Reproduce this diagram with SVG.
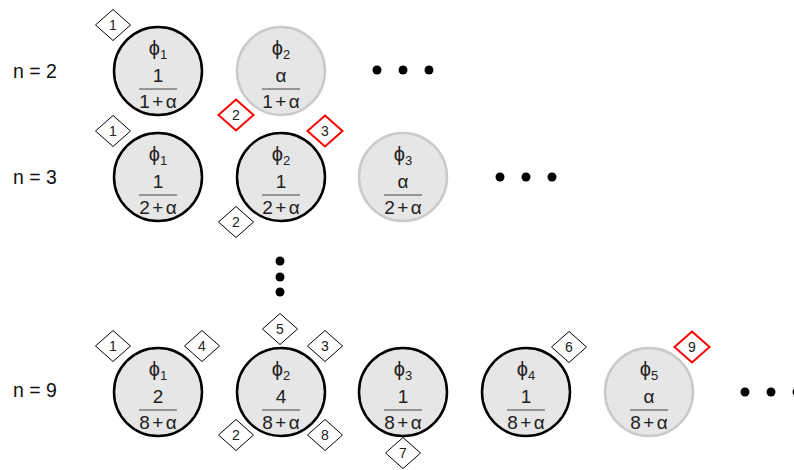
<svg xmlns="http://www.w3.org/2000/svg" xmlns:xlink="http://www.w3.org/1999/xlink" width="794" height="470" viewBox="0 0 794 470">
<style>
.c{fill:#e6e6e6;stroke:#000;stroke-width:2.5}
.cg{fill:#e6e6e6;stroke:#cacaca;stroke-width:2.5}
.t{font-family:"Liberation Sans",Arial,"DejaVu Sans",sans-serif;fill:#222;text-anchor:middle}
.phi{font-size:20px}
.num{font-size:19px}
.den{font-size:19px;letter-spacing:2.5px}
.sub{font-size:13px}
.fl{stroke:#444;stroke-width:1}
.d{fill:#fff;stroke:#000;stroke-width:1}
.dr{fill:#fff;stroke:#f00;stroke-width:2}
.dt{font-size:14px}
.lab{font-family:"Liberation Sans",Arial,sans-serif;font-size:19.5px;fill:#111}
.dot{fill:#000}
</style>
<defs>
<polygon id="dia" points="0,-15.5 17.5,0 0,15.5 -17.5,0"/>
</defs>

<g id="labels">
<text class="lab" x="13" y="78">n = 2</text>
<text class="lab" x="13" y="184">n = 3</text>
<text class="lab" x="13" y="397">n = 9</text>
</g>

<!-- n = 2 -->
<g id="n2_phi1" transform="translate(158,71)">
<circle class="c" r="44"/>
<text class="t phi" y="-16">ϕ<tspan class="sub" dy="4">1</tspan></text>
<text class="t num" y="11">1</text>
<line class="fl" x1="-19" y1="18" x2="19" y2="18"/>
<text class="t den" x="1.25" y="37">1+α</text>
</g>
<g id="n2_phi2" transform="translate(281,71)">
<circle class="cg" r="44"/>
<text class="t phi" y="-16">ϕ<tspan class="sub" dy="4">2</tspan></text>
<text class="t num" y="11">α</text>
<line class="fl" x1="-19" y1="18" x2="19" y2="18"/>
<text class="t den" x="1.25" y="37">1+α</text>
</g>
<g id="n2_dots">
<circle class="dot" cx="377" cy="70" r="4.5"/>
<circle class="dot" cx="403" cy="70" r="4.5"/>
<circle class="dot" cx="429" cy="70" r="4.5"/>
</g>

<!-- n = 3 -->
<g id="n3_phi1" transform="translate(158,177)">
<circle class="c" r="44"/>
<text class="t phi" y="-16">ϕ<tspan class="sub" dy="4">1</tspan></text>
<text class="t num" y="11">1</text>
<line class="fl" x1="-19" y1="18" x2="19" y2="18"/>
<text class="t den" x="1.25" y="37">2+α</text>
</g>
<g id="n3_phi2" transform="translate(281,177)">
<circle class="c" r="44"/>
<text class="t phi" y="-16">ϕ<tspan class="sub" dy="4">2</tspan></text>
<text class="t num" y="11">1</text>
<line class="fl" x1="-19" y1="18" x2="19" y2="18"/>
<text class="t den" x="1.25" y="37">2+α</text>
</g>
<g id="n3_phi3" transform="translate(403,177)">
<circle class="cg" r="44"/>
<text class="t phi" y="-16">ϕ<tspan class="sub" dy="4">3</tspan></text>
<text class="t num" y="11">α</text>
<line class="fl" x1="-19" y1="18" x2="19" y2="18"/>
<text class="t den" x="1.25" y="37">2+α</text>
</g>
<g id="n3_dots">
<circle class="dot" cx="500" cy="177" r="4.5"/>
<circle class="dot" cx="526" cy="177" r="4.5"/>
<circle class="dot" cx="552" cy="177" r="4.5"/>
</g>

<g id="vdots">
<circle class="dot" cx="280" cy="261" r="4.5"/>
<circle class="dot" cx="280" cy="277" r="4.5"/>
<circle class="dot" cx="280" cy="292" r="4.5"/>
</g>

<!-- n = 9 -->
<g id="n9_phi1" transform="translate(158,392)">
<circle class="c" r="44"/>
<text class="t phi" y="-16">ϕ<tspan class="sub" dy="4">1</tspan></text>
<text class="t num" y="11">2</text>
<line class="fl" x1="-19" y1="18" x2="19" y2="18"/>
<text class="t den" x="1.25" y="37">8+α</text>
</g>
<g id="n9_phi2" transform="translate(281,392)">
<circle class="c" r="44"/>
<text class="t phi" y="-16">ϕ<tspan class="sub" dy="4">2</tspan></text>
<text class="t num" y="11">4</text>
<line class="fl" x1="-19" y1="18" x2="19" y2="18"/>
<text class="t den" x="1.25" y="37">8+α</text>
</g>
<g id="n9_phi3" transform="translate(403,392)">
<circle class="c" r="44"/>
<text class="t phi" y="-16">ϕ<tspan class="sub" dy="4">3</tspan></text>
<text class="t num" y="11">1</text>
<line class="fl" x1="-19" y1="18" x2="19" y2="18"/>
<text class="t den" x="1.25" y="37">8+α</text>
</g>
<g id="n9_phi4" transform="translate(526,392)">
<circle class="c" r="44"/>
<text class="t phi" y="-16">ϕ<tspan class="sub" dy="4">4</tspan></text>
<text class="t num" y="11">1</text>
<line class="fl" x1="-19" y1="18" x2="19" y2="18"/>
<text class="t den" x="1.25" y="37">8+α</text>
</g>
<g id="n9_phi5" transform="translate(649,392)">
<circle class="cg" r="44"/>
<text class="t phi" y="-16">ϕ<tspan class="sub" dy="4">5</tspan></text>
<text class="t num" y="11">α</text>
<line class="fl" x1="-19" y1="18" x2="19" y2="18"/>
<text class="t den" x="1.25" y="37">8+α</text>
</g>
<g id="n9_dots">
<circle class="dot" cx="745" cy="392" r="4.5"/>
<circle class="dot" cx="771" cy="392" r="4.5"/>
<circle class="dot" cx="797" cy="392" r="4.5"/>
</g>

<!-- step markers -->
<g id="m_n2_1" transform="translate(113,25)"><use xlink:href="#dia" class="d"/><text class="t dt" y="5">1</text></g>
<g id="m_n2_2" transform="translate(236,115)"><use xlink:href="#dia" class="dr"/><text class="t dt" y="5">2</text></g>

<g id="m_n3_1" transform="translate(113,131)"><use xlink:href="#dia" class="d"/><text class="t dt" y="5">1</text></g>
<g id="m_n3_3" transform="translate(325,131)"><use xlink:href="#dia" class="dr"/><text class="t dt" y="5">3</text></g>
<g id="m_n3_2" transform="translate(236,222)"><use xlink:href="#dia" class="d"/><text class="t dt" y="5">2</text></g>

<g id="m_n9_1" transform="translate(113,346)"><use xlink:href="#dia" class="d"/><text class="t dt" y="5">1</text></g>
<g id="m_n9_4" transform="translate(202,346)"><use xlink:href="#dia" class="d"/><text class="t dt" y="5">4</text></g>
<g id="m_n9_5" transform="translate(280,329)"><use xlink:href="#dia" class="d"/><text class="t dt" y="5">5</text></g>
<g id="m_n9_3" transform="translate(325,346)"><use xlink:href="#dia" class="d"/><text class="t dt" y="5">3</text></g>
<g id="m_n9_2" transform="translate(236,435)"><use xlink:href="#dia" class="d"/><text class="t dt" y="5">2</text></g>
<g id="m_n9_8" transform="translate(325,435)"><use xlink:href="#dia" class="d"/><text class="t dt" y="5">8</text></g>
<g id="m_n9_7" transform="translate(403,453)"><use xlink:href="#dia" class="d"/><text class="t dt" y="5">7</text></g>
<g id="m_n9_6" transform="translate(569,347)"><use xlink:href="#dia" class="d"/><text class="t dt" y="5">6</text></g>
<g id="m_n9_9" transform="translate(692,347)"><use xlink:href="#dia" class="dr"/><text class="t dt" y="5">9</text></g>
</svg>
